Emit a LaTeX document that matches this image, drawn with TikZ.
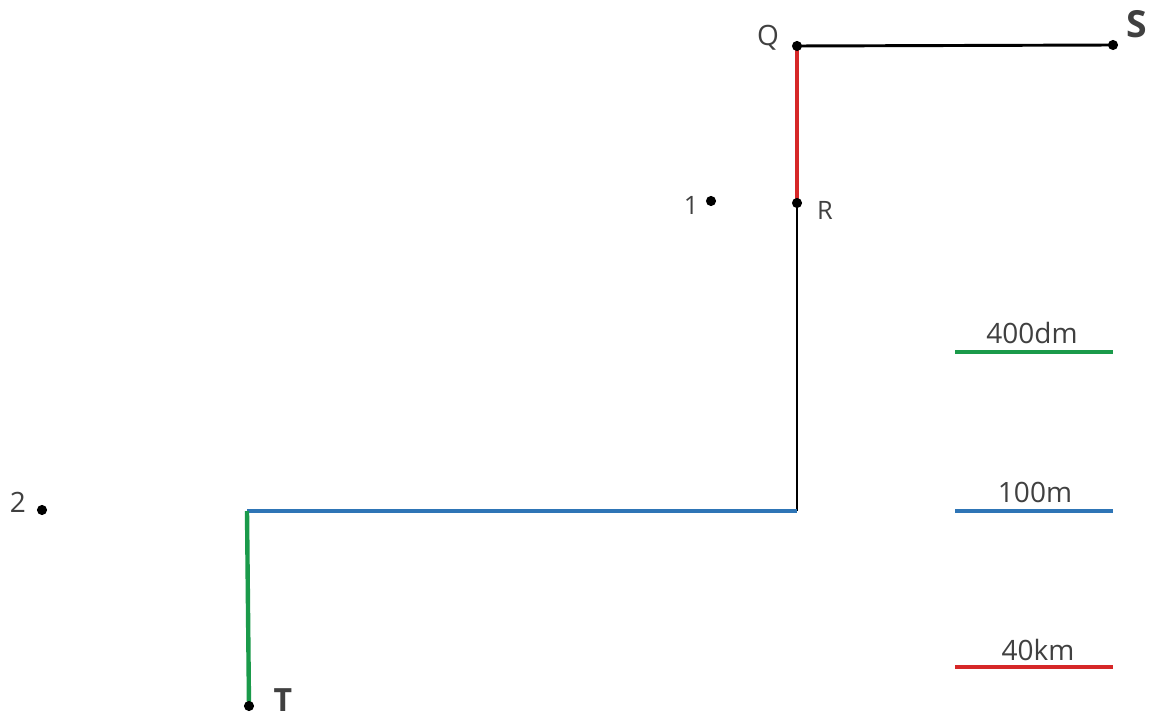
\documentclass[tikz,border=0pt]{standalone}
\usepackage{fontspec}
\setmainfont{Open Sans}
\usepackage{tikz}
\usetikzlibrary{calc}
\definecolor{segred}{RGB}{214,39,40}
\definecolor{segblue}{RGB}{46,117,182}
\definecolor{seggreen}{RGB}{26,154,74}
\definecolor{labgray}{RGB}{64,64,64}
\tikzset{
  lab/.style={text=labgray, inner sep=0pt, font=\fontsize{21}{24}\selectfont},
  bigl/.style={lab, font=\fontsize{28}{32}\selectfont\bfseries},
  dot/.style={fill=black},
}
\begin{document}
\begin{tikzpicture}[x=0.75pt, y=-0.75pt]
    \useasboundingbox (0,0) rectangle (1164,720);
    %点を設定する
    \coordinate (Q) at (797,46);
    \coordinate (S) at (1113,45);
    \coordinate (R) at (797,203);
    \coordinate (K) at (797,511);
    \coordinate (L) at (247,511);
    \coordinate (T) at (249,706);
    \coordinate (P1) at (711,201);
    \coordinate (P2) at (42,510);
    %折れ線を描く
    \draw[line width=2.2pt] (Q)--(S);
    \draw[line width=2.2pt] (R)--(K);
    \draw[segred, line width=3.6pt] (Q)--(R);
    \draw[segblue, line width=3pt] (L)--(K);
    \draw[seggreen, line width=3.3pt] (L)--(T);
    %点と名前
    \foreach \p in {Q,S,R,T,P1,P2}
      \fill[dot] (\p) circle (3.8pt);
    \node[lab] (q) at (768,38) {Q};
    \node[bigl] (s) at (1137,24) {S};
    \node[lab, font=\fontsize{19}{22}\selectfont] (r) at (825,210) {R};
    \node[bigl, font=\fontsize{24}{28}\selectfont\bfseries] (t) at (283,700) {T};
    \node[lab, font=\fontsize{19}{22}\selectfont] (one) at (691,205) {1};
    \node[lab] (two) at (18,502) {2};
    %長さの見本
    \coordinate (g1) at (955,352); \coordinate (g2) at (1113,352);
    \coordinate (b1) at (955,511); \coordinate (b2) at (1113,511);
    \coordinate (r1) at (955,667); \coordinate (r2) at (1113,667);
    \draw[seggreen, line width=3pt] (g1)--(g2);
    \draw[segblue, line width=3pt] (b1)--(b2);
    \draw[segred, line width=3pt] (r1)--(r2);
    \node[lab] (dm) at (1032,333) {400dm};
    \node[lab] (m) at (1035,492) {100m};
    \node[lab] (km) at (1038,650) {40km};
\end{tikzpicture}
\end{document}
